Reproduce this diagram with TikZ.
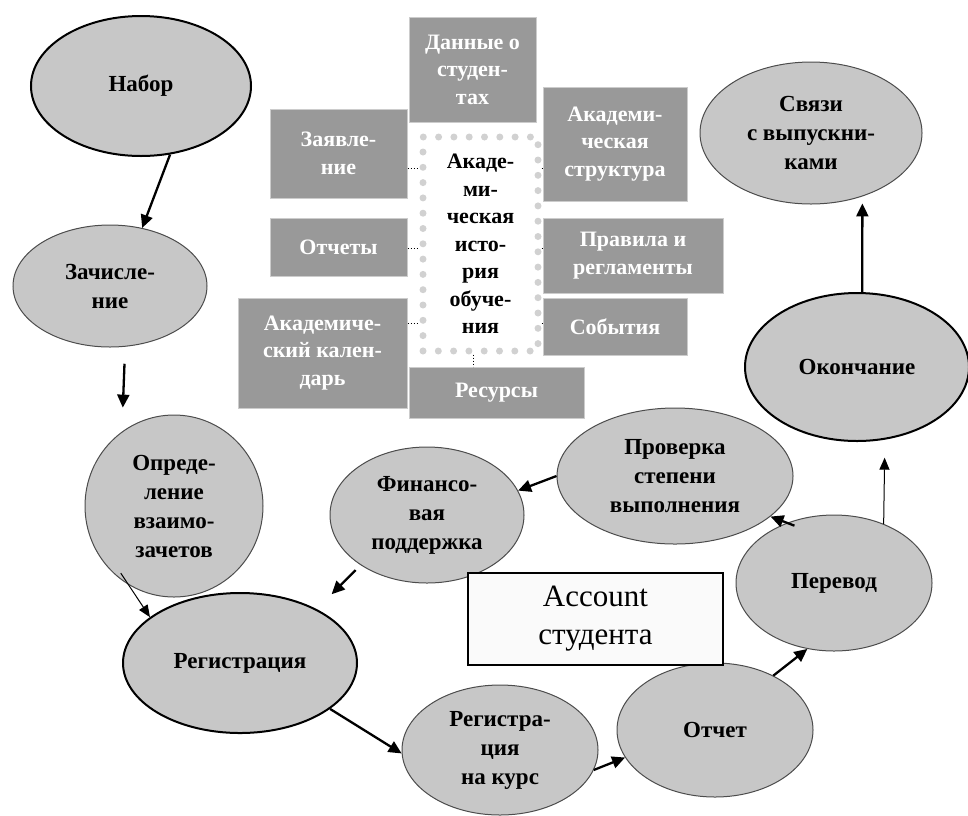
\documentclass[tikz,border=0pt]{standalone}
\usepackage{fontspec}
\setmainfont{Liberation Serif}
\usetikzlibrary{shapes,arrows.meta}
\tikzset{
  stage/.style={ellipse, draw=black!70, line width=1pt, fill=black!22, inner sep=0pt, align=center, font=\bfseries\fontsize{23}{29}\selectfont},
  mainstage/.style={stage, draw=black, line width=2pt},
  databox/.style={rectangle, fill=black!40, draw=black!20, line width=1pt, inner sep=0pt, align=center, text=white, font=\bfseries\fontsize{22}{27.5}\selectfont},
  flowarrow/.style={-{Triangle[length=13pt,width=12pt]}, line width=2.3pt},
  thinarrow/.style={-{Triangle[length=12pt,width=10pt]}, line width=1pt},
  link/.style={dotted, line width=1pt}
}
\newcommand{\stagenode}[5] {\node at (#1) (#2) [stage, minimum width=#3pt, minimum height=#4pt] {#5};}
\newcommand{\mainstagenode}[5] {\node at (#1) (#2) [mainstage, minimum width=#3pt, minimum height=#4pt] {#5};}
\newcommand{\datanode}[5] {\node at (#1) (#2) [databox, minimum width=#3pt, minimum height=#4pt] {#5};}
\newcommand{\flow}[3][] {\draw [flowarrow, #1] (#2) -- (#3);}
\newcommand{\thinflow}[3][] {\draw [thinarrow, #1] (#2) -- (#3);}
\newcommand{\datalink}[2] {\draw [link] (#1) -- (#2);}

\begin{document}
\begin{tikzpicture}[x=1pt, y=-1pt]
\useasboundingbox (0,0) rectangle (968,815);

% stages of the student life cycle
\mainstagenode {141,86}    {nabor}    {220} {140} {Набор};
\stagenode     {110,286}   {zach}     {194} {122} {Зачисле-\\ние};
\stagenode     {174,506}   {opred}    {178} {182} {Опреде-\\ление\\взаимо-\\зачетов};
\mainstagenode {240,663}   {reg}      {234} {140} {Регистрация};
\stagenode     {427,515}   {fin}      {194} {136} {Финансо-\\вая\\поддержка};
\stagenode     {500,750}   {kurs}     {196} {130} {Регистра-\\ция\\на курс};
\stagenode     {715,730}   {otchet}   {196} {134} {Отчет};
\stagenode     {834,583}   {perevod}  {196} {136} {Перевод};
\stagenode     {675,476}   {proverka} {236} {136} {Проверка\\степени\\выполнения};
\mainstagenode {857,367}   {okonch}   {224} {148} {Окончание};
\stagenode     {811,133}   {svyazi}   {222} {142} {Связи\\с выпускни-\\ками};

% academic history and its data
\node at (480.5,244) (history) [rectangle, draw=black!18, line width=7pt, line cap=round, dash pattern=on 0pt off 15.3pt, minimum width=115pt, minimum height=214pt, inner sep=0pt, align=center, font=\bfseries\fontsize{22}{27.5}\selectfont] {Акаде-\\ми-\\ческая\\исто-\\рия\\обуче-\\ния};
\datanode {472.5,69.5} {dannye}  {127} {105} {Данные о\\студен-\\тах};
\datanode {615,144}    {struct}  {144} {114} {Академи-\\ческая\\структура};
\datanode {338.5,153.5}{zayav}   {137} {89}  {Заявле-\\ние};
\datanode {338.5,247}  {otchety} {137} {58}  {Отчеты};
\datanode {633,255.5}  {pravila} {180} {75}  {Правила и\\регламенты};
\datanode {615,326.5}  {sobyt}   {144} {57}  {События};
\datanode {322.5,353}  {kalend}  {169} {110} {Академиче-\\ский кален-\\дарь};
\datanode {496.5,392.5}{resursy} {175} {51}  {Ресурсы};

\node at (595.5,619) (account) [rectangle, draw=black, line width=1.2pt, fill=black!2, minimum width=255pt, minimum height=92pt, align=center, font=\fontsize{31}{38}\selectfont] {Account\\студента};

\datalink{zayav.east |- 0,168}{history.west |- 0,168};
\datalink{otchety.east |- 0,248}{history.west |- 0,248};
\datalink{kalend.east |- 0,323}{history.west |- 0,323};
\datalink{history.east |- 0,168}{struct.west |- 0,168};
\datalink{history.east |- 0,248}{pravila.west |- 0,248};
\datalink{history.east |- 0,323}{sobyt.west |- 0,323};
\datalink{473,0 |- history.south}{473,0 |- resursy.north};

\flow{nabor.-67}{zach.61};
\flow[shorten <=17pt, shorten >=24pt]{zach.-76}{opred.125};
\thinflow[shorten <=-14pt]{opred.-120}{reg.153};
\flow[shorten <=7pt, shorten >=21pt]{fin.-143}{reg.35};
\flow{reg.-27}{kurs.182};
\flow{kurs.-12}{otchet.197};
\flow{otchet.43}{perevod.-112};
\flow[shorten <=-8pt]{perevod.128}{proverka.-23};
\flow{proverka.180}{fin.15};
\thinflow[shorten >=18pt]{perevod.50}{okonch.-69};
\flow[shorten >=7pt]{okonch.86}{svyazi.-51};

\end{tikzpicture}
\end{document}
